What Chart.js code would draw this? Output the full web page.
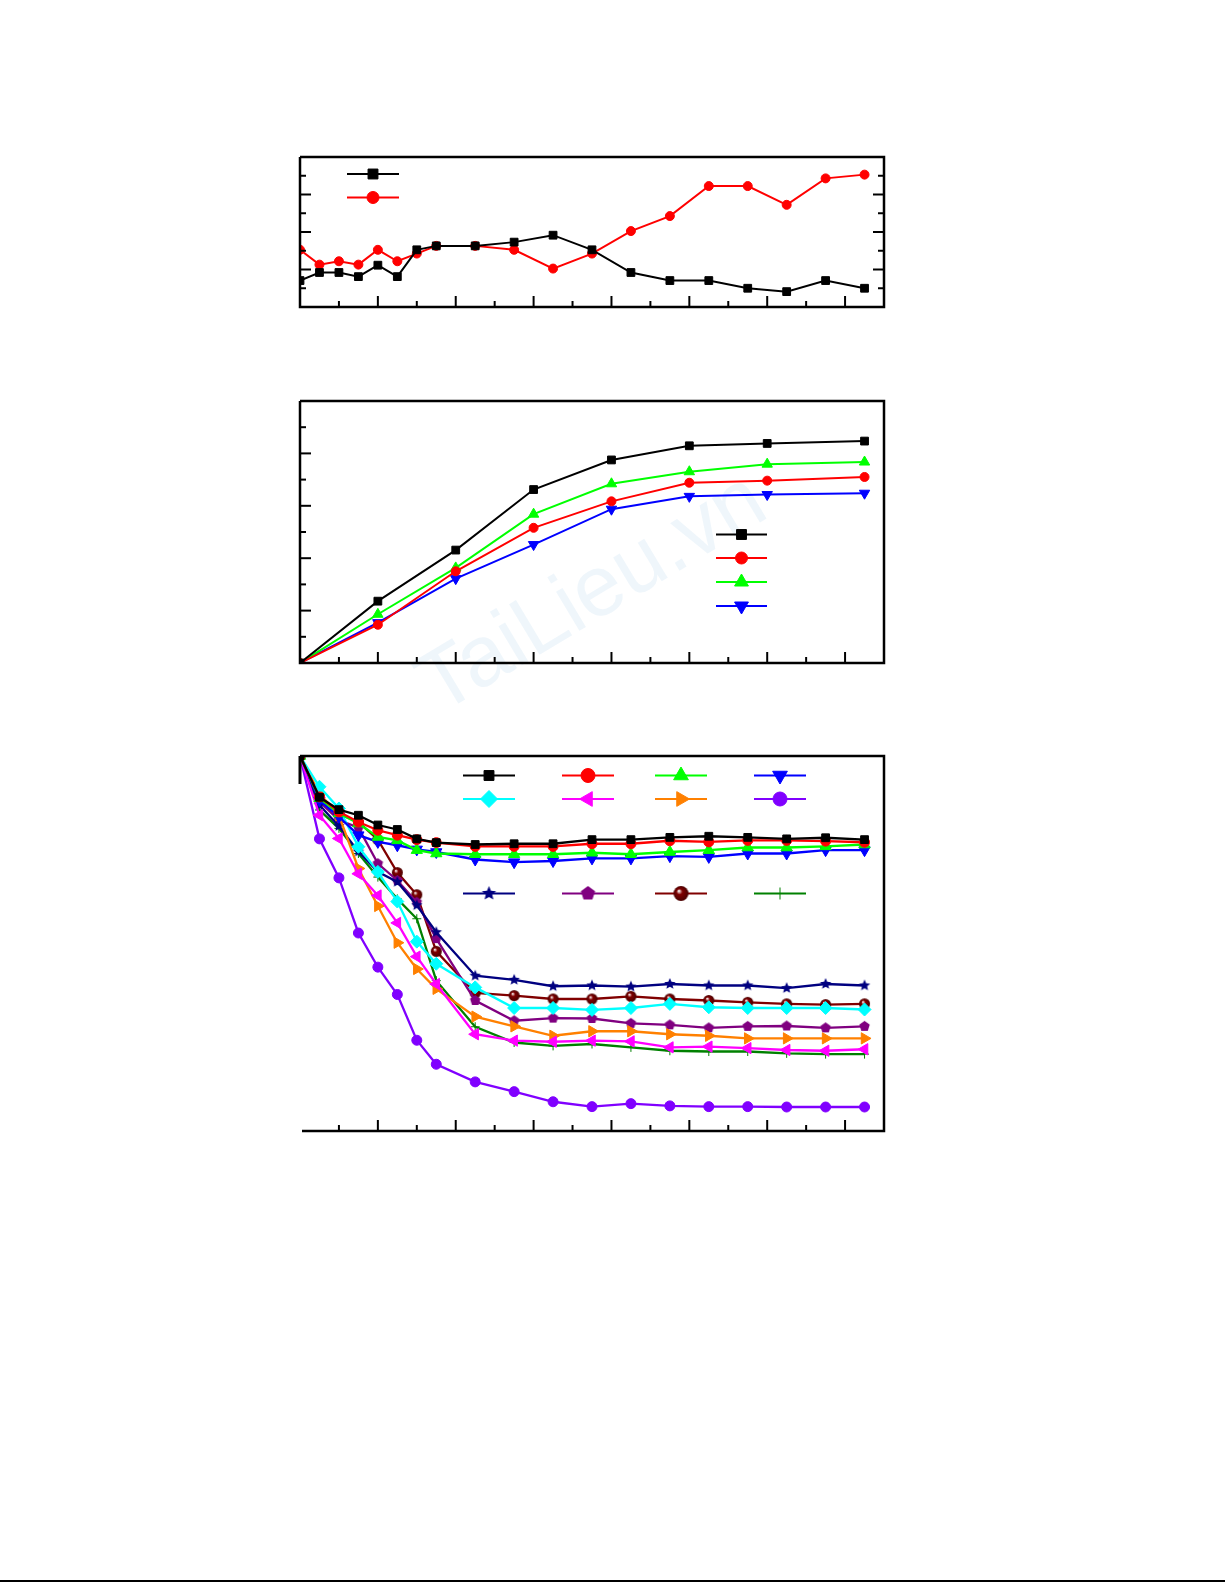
<!DOCTYPE html>
<html>
<head>
<meta charset="utf-8">
<script src="https://cdn.jsdelivr.net/npm/chart.js@4.4.1/dist/chart.umd.min.js"></script>
<style>
    html, body { margin: 0; padding: 0; background: #fff; }
    body { width: 1225px; height: 1585px; position: relative; overflow: hidden; font-family: "Liberation Sans", Arial, sans-serif; }
    canvas { position: absolute; }
    #panel1 { left: 280px; top: 137px; }
    #panel2 { left: 280px; top: 381px; }
    #panel3 { left: 280px; top: 736px; }
    .wm {
        position: absolute; left: 590px; top: 590px;
        transform: translate(-50%, -50%) rotate(-31deg);
        font-size: 86px; color: rgba(80, 160, 210, 0.09); white-space: nowrap;
    }
    .page-rule { position: absolute; left: 0; top: 1580px; width: 1225px; height: 2px; background: #000; }
</style>
</head>
<body>
<div class="wm">TaiLieu.vn</div>
<canvas id="panel1" width="624" height="190"></canvas>
<canvas id="panel2" width="624" height="302"></canvas>
<canvas id="panel3" width="624" height="415"></canvas>
<div class="page-rule"></div>

<script>
// --- data ---
const xDense = [0, 0.25, 0.5, 0.75, 1, 1.25, 1.5, 1.75, 2.25, 2.75, 3.25, 3.75, 4.25, 4.75, 5.25, 5.75, 6.25, 6.75, 7.25];
const xCoarse = [0, 1, 2, 3, 4, 5, 6, 7.25];
const xTicks = [0.5, 1, 1.5, 2, 2.5, 3, 3.5, 4, 4.5, 5, 5.5, 6, 6.5, 7];

// panel 1
const p1YTicks = [1, 2, 3, 4, 5, 6, 7];
const p1Black = [1.41, 1.84, 1.84, 1.62, 2.23, 1.62, 3.05, 3.26, 3.26, 3.46, 3.83, 3.05, 1.84, 1.41, 1.41, 1.0, 0.82, 1.41, 1.0];
const p1Red = [3.05, 2.26, 2.44, 2.26, 3.05, 2.44, 2.85, 3.26, 3.26, 3.05, 2.05, 2.85, 4.05, 4.85, 6.45, 6.45, 5.45, 6.86, 7.06];

// panel 2
const p2YTicks = [1, 2, 3, 4, 5, 6, 7, 8, 9];
const p2Black = [0, 2.36, 4.31, 6.62, 7.75, 8.29, 8.38, 8.47];
const p2Red = [0, 1.46, 3.50, 5.16, 6.17, 6.88, 6.96, 7.10];
const p2Green = [0, 1.86, 3.63, 5.68, 6.84, 7.30, 7.59, 7.67];
const p2Blue = [0, 1.54, 3.22, 4.52, 5.87, 6.36, 6.43, 6.48];

// panel 3
const p3Black = [1.0, 0.890, 0.857, 0.842, 0.816, 0.804, 0.779, 0.769, 0.764, 0.766, 0.766, 0.777, 0.777, 0.783, 0.786, 0.783, 0.779, 0.782, 0.777];
const p3Red = [1.0, 0.891, 0.851, 0.824, 0.802, 0.789, 0.777, 0.769, 0.759, 0.759, 0.759, 0.766, 0.766, 0.774, 0.771, 0.775, 0.775, 0.773, 0.770];
const p3Green = [1.0, 0.887, 0.847, 0.820, 0.784, 0.775, 0.749, 0.740, 0.738, 0.738, 0.738, 0.742, 0.738, 0.744, 0.749, 0.756, 0.756, 0.759, 0.764];
const p3Blue = [1.0, 0.882, 0.838, 0.789, 0.771, 0.762, 0.751, 0.744, 0.724, 0.717, 0.720, 0.727, 0.727, 0.733, 0.731, 0.740, 0.740, 0.749, 0.749];
const p3Cyan = [1.0, 0.918, 0.860, 0.758, 0.691, 0.612, 0.505, 0.446, 0.383, 0.328, 0.328, 0.323, 0.328, 0.339, 0.330, 0.328, 0.328, 0.328, 0.324];
const p3Magenta = [1.0, 0.842, 0.780, 0.686, 0.628, 0.555, 0.465, 0.392, 0.258, 0.241, 0.238, 0.241, 0.239, 0.223, 0.225, 0.221, 0.216, 0.214, 0.218];
const p3Orange = [1.0, 0.900, 0.842, 0.700, 0.600, 0.502, 0.432, 0.379, 0.305, 0.279, 0.254, 0.266, 0.266, 0.258, 0.254, 0.247, 0.247, 0.247, 0.247];
const p3Violet = [1.0, 0.779, 0.675, 0.528, 0.437, 0.364, 0.242, 0.178, 0.131, 0.105, 0.078, 0.065, 0.073, 0.067, 0.065, 0.065, 0.064, 0.064, 0.064];
const p3Navy = [1.0, 0.869, 0.813, 0.745, 0.691, 0.664, 0.602, 0.530, 0.414, 0.403, 0.386, 0.388, 0.385, 0.392, 0.388, 0.388, 0.381, 0.392, 0.388];
const p3Purple = [1.0, 0.878, 0.829, 0.809, 0.713, 0.668, 0.610, 0.513, 0.348, 0.294, 0.301, 0.300, 0.287, 0.283, 0.275, 0.279, 0.280, 0.275, 0.279];
const p3Maroon = [1.0, 0.896, 0.845, 0.824, 0.777, 0.689, 0.630, 0.479, 0.368, 0.361, 0.352, 0.352, 0.359, 0.352, 0.348, 0.343, 0.339, 0.337, 0.339];
const p3DkGreen = [1.0, 0.856, 0.807, 0.740, 0.677, 0.619, 0.566, 0.401, 0.278, 0.236, 0.227, 0.232, 0.223, 0.214, 0.212, 0.212, 0.207, 0.205, 0.205];

// --- custom marker shapes (pentagon, filled star, shaded ball) ---
function shapeCanvas(kind, color, r) {
    const s = Math.ceil(r * 2 + 2);
    const c = document.createElement('canvas');
    c.width = s; c.height = s;
    const g = c.getContext('2d');
    const cx = s / 2, cy = s / 2;
    g.fillStyle = color;
    g.beginPath();
    if (kind === 'pentagon') {
        for (let k = 0; k < 5; k++) {
            const a = -Math.PI / 2 + k * 2 * Math.PI / 5;
            g.lineTo(cx + r * Math.cos(a), cy + r * Math.sin(a));
        }
    } else if (kind === 'star') {
        for (let k = 0; k < 10; k++) {
            const rr = k % 2 ? r * 0.45 : r;
            const a = -Math.PI / 2 + k * Math.PI / 5;
            g.lineTo(cx + rr * Math.cos(a), cy + rr * Math.sin(a));
        }
    } else if (kind === 'sphere') {
        const grad = g.createRadialGradient(cx - r * 0.3, cy - r * 0.35, r * 0.05, cx, cy, r);
        grad.addColorStop(0, '#ffffff');
        grad.addColorStop(0.35, color);
        grad.addColorStop(1, '#4a0000');
        g.fillStyle = grad;
        g.arc(cx, cy, r, 0, Math.PI * 2);
    }
    g.closePath();
    g.fill();
    return c;
}

// --- frame + inward ticks ---
const framePlugin = {
    id: 'frame',
    afterDatasetsDraw(chart, args, o) {
        const { ctx, chartArea: a, scales: { x, y } } = chart;
        ctx.save();
        ctx.strokeStyle = '#000';
        ctx.lineWidth = 2;
        xTicks.forEach(v => {
            const px = x.getPixelForValue(v);
            const len = Number.isInteger(v) ? 11 : 6;
            ctx.beginPath(); ctx.moveTo(px, a.bottom); ctx.lineTo(px, a.bottom - len); ctx.stroke();
        });
        (o.yTicks || []).forEach(v => {
            const py = y.getPixelForValue(v);
            const len = v % 2 === 0 ? 11 : 6;
            ctx.beginPath(); ctx.moveTo(a.left, py); ctx.lineTo(a.left + len, py); ctx.stroke();
            if (o.rightTicks) {
                ctx.beginPath(); ctx.moveTo(a.right, py); ctx.lineTo(a.right - len, py); ctx.stroke();
            }
        });
        ctx.lineWidth = 2.5;
        ctx.beginPath();
        ctx.moveTo(a.left, a.top);
        ctx.lineTo(a.right, a.top);
        ctx.lineTo(a.right, a.bottom);
        ctx.lineTo(a.left + (o.bottomInset || 0), a.bottom);
        if (!o.leftStub) ctx.lineTo(a.left, a.top);
        ctx.stroke();
        if (o.leftStub) {
            ctx.lineWidth = 3;
            ctx.beginPath(); ctx.moveTo(a.left, a.top); ctx.lineTo(a.left, a.top + o.leftStub); ctx.stroke();
        }
        ctx.restore();
    }
};

// --- legend: line sample with marker, no text ---
const sampleLegend = {
    id: 'sampleLegend',
    afterDraw(chart, args, o) {
        const { ctx, chartArea: a } = chart;
        chart.data.datasets.forEach((ds, i) => {
            const col = i % o.colX.length, row = Math.floor(i / o.colX.length);
            const x0 = a.left + o.colX[col];
            const yy = a.top + o.rowY[row];
            ctx.save();
            ctx.strokeStyle = ds.borderColor;
            ctx.lineWidth = 2;
            ctx.beginPath(); ctx.moveTo(x0, yy); ctx.lineTo(x0 + o.len, yy); ctx.stroke();
            ctx.fillStyle = ds.pointBackgroundColor;
            ctx.strokeStyle = ds.pointBorderColor;
            ctx.lineWidth = ds.pointBorderWidth;
            Chart.helpers.drawPoint(ctx, {
                pointStyle: ds.legendStyle || ds.pointStyle,
                rotation: ds.pointRotation || 0,
                radius: ds.legendRadius,
                borderWidth: ds.pointBorderWidth
            }, x0 + o.len / 2, yy);
            ctx.restore();
        });
    }
};

function series(xs, ys, color, style, r, lr, extra) {
    return Object.assign({
        data: xs.map((x, i) => ({ x, y: ys[i] })),
        borderColor: color,
        backgroundColor: color,
        pointBackgroundColor: color,
        pointBorderColor: color,
        pointBorderWidth: 1,
        borderWidth: 2,
        pointStyle: style,
        pointRadius: r,
        legendRadius: lr,
        tension: 0,
        clip: 0
    }, extra || {});
}

function makePanel(id, datasets, yMax, frameOpts, legendOpts) {
    new Chart(document.getElementById(id), {
        type: 'line',
        data: { datasets },
        options: {
            responsive: false,
            animation: false,
            layout: { padding: 20 },
            plugins: {
                legend: { display: false },
                tooltip: { enabled: false },
                frame: frameOpts,
                sampleLegend: legendOpts
            },
            scales: {
                x: { type: 'linear', min: 0, max: 7.5, display: false },
                y: { type: 'linear', min: 0, max: yMax, display: false }
            }
        },
        plugins: [framePlugin, sampleLegend]
    });
}

// Panel 1
makePanel('panel1', [
    series(xDense, p1Black, '#000000', 'rect', 5.5, 7),
    series(xDense, p1Red, '#ff0000', 'circle', 4.5, 6)
], 8, { yTicks: p1YTicks, rightTicks: true }, { colX: [47], rowY: [17, 40.5], len: 52 });

// Panel 2
makePanel('panel2', [
    series(xCoarse, p2Black, '#000000', 'rect', 5.5, 7),
    series(xCoarse, p2Red, '#ff0000', 'circle', 4.5, 6),
    series(xCoarse, p2Green, '#00ff00', 'triangle', 6, 8),
    series(xCoarse, p2Blue, '#0000ff', 'triangle', 6, 8, { pointRotation: 180 })
], 10, { yTicks: p2YTicks }, { colX: [416], rowY: [133.5, 157, 181, 205], len: 51 });

// Panel 3
const thick = { borderWidth: 2.3 };
makePanel('panel3', [
    series(xDense, p3Black, '#000000', 'rect', 5.5, 7, thick),
    series(xDense, p3Red, '#ff0000', 'circle', 5, 7, thick),
    series(xDense, p3Green, '#00ff00', 'triangle', 6.5, 8.5, thick),
    series(xDense, p3Blue, '#0000ff', 'triangle', 6.5, 8.5, { borderWidth: 2.3, pointRotation: 180 }),
    series(xDense, p3Cyan, '#00ffff', 'rectRot', 6.5, 8.5, thick),
    series(xDense, p3Magenta, '#ff00ff', 'triangle', 6.5, 8.5, { borderWidth: 2.3, pointRotation: 270 }),
    series(xDense, p3Orange, '#ff8000', 'triangle', 6.5, 8.5, { borderWidth: 2.3, pointRotation: 90 }),
    series(xDense, p3Violet, '#8000ff', 'circle', 5, 7, thick),
    series(xDense, p3Navy, '#000080', shapeCanvas('star', '#000080', 6), 6, 7,
        { borderWidth: 2.3, legendStyle: shapeCanvas('star', '#000080', 7.5) }),
    series(xDense, p3Purple, '#800080', shapeCanvas('pentagon', '#800080', 5.5), 5.5, 7,
        { borderWidth: 2.3, legendStyle: shapeCanvas('pentagon', '#800080', 7.5) }),
    series(xDense, p3Maroon, '#800000', shapeCanvas('sphere', '#800000', 5.5), 5.5, 7,
        { borderWidth: 2.3, legendStyle: shapeCanvas('sphere', '#800000', 7.5) }),
    series(xDense, p3DkGreen, '#008000', 'cross', 4.5, 6, thick)
], 1, { leftStub: 28, bottomInset: 2 }, { colX: [163, 262, 355, 454], rowY: [19.5, 43, 137.5], len: 52 });
</script>
</body>
</html>
